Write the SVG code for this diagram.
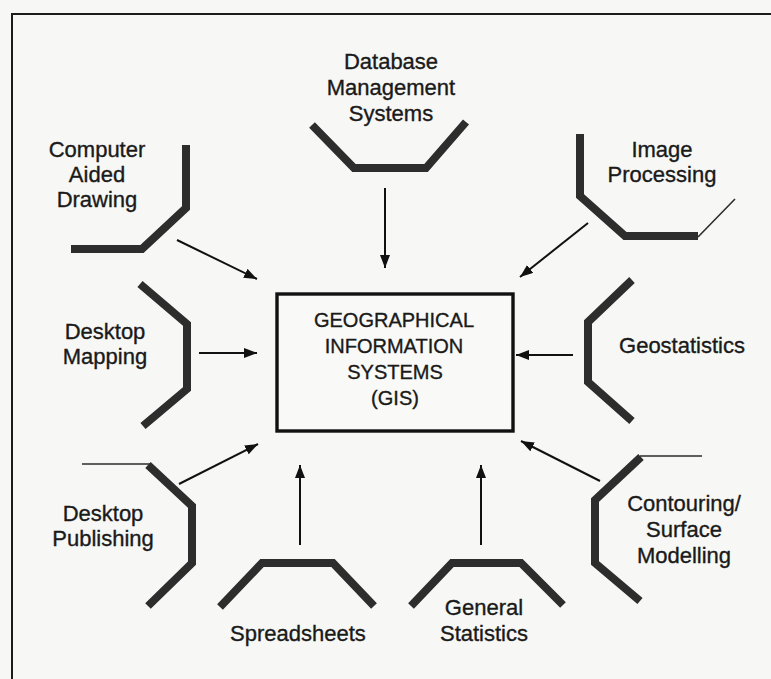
<svg xmlns="http://www.w3.org/2000/svg" width="771" height="679" viewBox="0 0 771 679">
  <defs>
    <style>
      .bg { fill: #f7f7f5; }
      .frame { fill: none; stroke: #1c1c1c; stroke-width: 2; }
      .band { fill: none; stroke: #2d2d2d; stroke-width: 8; stroke-linejoin: miter; stroke-linecap: butt; }
      .thin { fill: none; stroke: #2d2d2d; stroke-width: 1.6; }
      .box { fill: #f9f9f7; stroke: #111; stroke-width: 3.4; }
      .lbl { font-family: "Liberation Sans", Arial, sans-serif; font-size: 22px; fill: #1a1a1a; stroke: #1a1a1a; stroke-width: 0.35; text-anchor: middle; }
      .gis { font-family: "Liberation Sans", Arial, sans-serif; font-size: 20px; fill: #1a1a1a; stroke: #1a1a1a; stroke-width: 0.35; text-anchor: middle; }
      .conn { fill: none; stroke: #111; stroke-width: 2; }
    </style>
    <marker id="arrow" viewBox="0 0 13 10" refX="13" refY="5" markerWidth="13" markerHeight="10" markerUnits="userSpaceOnUse" orient="auto">
      <path d="M0,0 L13,5 L0,10 Z" fill="#111"/>
    </marker>
  </defs>

  <rect class="bg" x="0" y="0" width="771" height="679"/>
  <!-- outer frame: top and left edges -->
  <polyline class="frame" points="12,679 12,14 771,14"/>

  <!-- central node -->
  <g id="gis">
    <rect class="box" x="277" y="294" width="236" height="137"/>
    <text class="gis" x="394" y="327">GEOGRAPHICAL</text>
    <text class="gis" x="394" y="353">INFORMATION</text>
    <text class="gis" x="395" y="379">SYSTEMS</text>
    <text class="gis" x="395" y="405">(GIS)</text>
  </g>

  <g id="dbms">
    <polyline class="band" points="312,125 354,168 426,168 466,122"/>
    <text class="lbl" x="391" y="69">Database</text>
    <text class="lbl" x="391" y="95">Management</text>
    <text class="lbl" x="391" y="121">Systems</text>
  </g>

  <g id="cad">
    <polyline class="band" points="71,249 142,249 186,208 186,145"/>
    <text class="lbl" x="97" y="157">Computer</text>
    <text class="lbl" x="97" y="182">Aided</text>
    <text class="lbl" x="97" y="207">Drawing</text>
  </g>

  <g id="image-processing">
    <polyline class="band" points="580,134 580,196 625,236 698,236"/>
    <polyline class="thin" points="698,237 735,199"/>
    <text class="lbl" x="662" y="157">Image</text>
    <text class="lbl" x="662" y="182">Processing</text>
  </g>

  <g id="desktop-mapping">
    <polyline class="band" points="140,284 187,324 187,389 143,426"/>
    <text class="lbl" x="105" y="339">Desktop</text>
    <text class="lbl" x="105" y="364">Mapping</text>
  </g>

  <g id="geostatistics">
    <polyline class="band" points="632,280 588,322 588,382 632,421"/>
    <text class="lbl" x="682" y="353">Geostatistics</text>
  </g>

  <g id="desktop-publishing">
    <polyline class="thin" points="82,464 150,464"/>
    <polyline class="band" points="148,465 192,506 192,563 148,606"/>
    <text class="lbl" x="103" y="521">Desktop</text>
    <text class="lbl" x="103" y="546">Publishing</text>
  </g>

  <g id="spreadsheets">
    <polyline class="band" points="220,607 262,563 333,563 374,606"/>
    <text class="lbl" x="298" y="641">Spreadsheets</text>
  </g>

  <g id="general-statistics">
    <polyline class="band" points="411,606 452,563 521,563 563,605"/>
    <text class="lbl" x="484" y="615">General</text>
    <text class="lbl" x="484" y="641">Statistics</text>
  </g>

  <g id="contouring">
    <polyline class="thin" points="640,456 702,456"/>
    <polyline class="band" points="641,457 595,500 595,563 640,601"/>
    <text class="lbl" x="684" y="511">Contouring/</text>
    <text class="lbl" x="684" y="537">Surface</text>
    <text class="lbl" x="684" y="563">Modelling</text>
  </g>

  <!-- connectors into the central node -->
  <g id="connectors">
    <line class="conn" x1="385" y1="188" x2="385" y2="268" marker-end="url(#arrow)"/>
    <line class="conn" x1="177" y1="240" x2="257" y2="279" marker-end="url(#arrow)"/>
    <line class="conn" x1="588" y1="223" x2="520" y2="277" marker-end="url(#arrow)"/>
    <line class="conn" x1="199" y1="353" x2="257" y2="353" marker-end="url(#arrow)"/>
    <line class="conn" x1="573" y1="355" x2="516" y2="355" marker-end="url(#arrow)"/>
    <line class="conn" x1="179" y1="484" x2="258" y2="444" marker-end="url(#arrow)"/>
    <line class="conn" x1="300" y1="545" x2="300" y2="465" marker-end="url(#arrow)"/>
    <line class="conn" x1="481" y1="545" x2="481" y2="465" marker-end="url(#arrow)"/>
    <line class="conn" x1="600" y1="481" x2="521" y2="441" marker-end="url(#arrow)"/>
  </g>
</svg>
